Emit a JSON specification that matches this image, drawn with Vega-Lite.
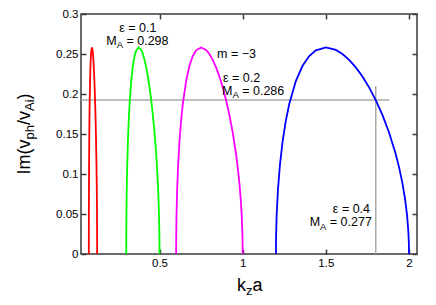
{
  "$schema": "https://vega.github.io/schema/vega-lite/v6.json",
  "width": 336,
  "height": 240,
  "autosize": "none",
  "padding": {"left": 81, "top": 14, "right": 19, "bottom": 51},
  "background": "white",
  "config": {
    "view": {"stroke": "#3a3a3a", "strokeWidth": 1.5},
    "font": "Liberation Sans",
    "axis": {"labelFont": "Liberation Sans", "labelFontSize": 11.5, "labelColor": "black", "tickColor": "#3a3a3a", "tickWidth": 1.5, "grid": false, "domain": false}
  },
  "datasets": {
    "curves": [
      {"s":"a","k":0.075,"v":0},{"s":"a","k":0.07505,"v":0.02106},{"s":"a","k":0.07525,"v":0.04687},{"s":"a","k":0.07575,"v":0.08023},{"s":"a","k":0.0765,"v":0.11149},{"s":"a","k":0.0775,"v":0.14061},{"s":"a","k":0.07875,"v":0.16723},{"s":"a","k":0.08,"v":0.1875},{"s":"a","k":0.0825,"v":0.21641},{"s":"a","k":0.085,"v":0.23529},{"s":"a","k":0.0875,"v":0.24744},{"s":"a","k":0.09,"v":0.25459},{"s":"a","k":0.09375,"v":0.2582},{"s":"a","k":0.0975,"v":0.25513},{"s":"a","k":0.1,"v":0.25},{"s":"a","k":0.1025,"v":0.24268},{"s":"a","k":0.105,"v":0.23329},{"s":"a","k":0.1075,"v":0.22185},{"s":"a","k":0.11,"v":0.2083},{"s":"a","k":0.1125,"v":0.19245},{"s":"a","k":0.115,"v":0.17391},{"s":"a","k":0.1175,"v":0.15194},{"s":"a","k":0.12,"v":0.125},{"s":"a","k":0.12125,"v":0.10861},{"s":"a","k":0.1225,"v":0.08896},{"s":"a","k":0.1235,"v":0.06906},{"s":"a","k":0.12425,"v":0.04891},{"s":"a","k":0.12475,"v":0.02827},{"s":"a","k":0.12495,"v":0.01265},{"s":"a","k":0.125,"v":0},
      {"s":"b","k":0.3,"v":0},{"s":"b","k":0.3002,"v":0.02106},{"s":"b","k":0.301,"v":0.04687},{"s":"b","k":0.303,"v":0.08023},{"s":"b","k":0.306,"v":0.11149},{"s":"b","k":0.31,"v":0.14061},{"s":"b","k":0.315,"v":0.16723},{"s":"b","k":0.32,"v":0.1875},{"s":"b","k":0.33,"v":0.21641},{"s":"b","k":0.34,"v":0.23529},{"s":"b","k":0.35,"v":0.24744},{"s":"b","k":0.36,"v":0.25459},{"s":"b","k":0.375,"v":0.2582},{"s":"b","k":0.39,"v":0.25513},{"s":"b","k":0.4,"v":0.25},{"s":"b","k":0.41,"v":0.24268},{"s":"b","k":0.42,"v":0.23329},{"s":"b","k":0.43,"v":0.22185},{"s":"b","k":0.44,"v":0.2083},{"s":"b","k":0.45,"v":0.19245},{"s":"b","k":0.46,"v":0.17391},{"s":"b","k":0.47,"v":0.15194},{"s":"b","k":0.48,"v":0.125},{"s":"b","k":0.485,"v":0.10861},{"s":"b","k":0.49,"v":0.08896},{"s":"b","k":0.494,"v":0.06906},{"s":"b","k":0.497,"v":0.04891},{"s":"b","k":0.499,"v":0.02827},{"s":"b","k":0.4998,"v":0.01265},{"s":"b","k":0.5,"v":0},
      {"s":"c","k":0.6,"v":0},{"s":"c","k":0.6004,"v":0.02106},{"s":"c","k":0.602,"v":0.04687},{"s":"c","k":0.606,"v":0.08023},{"s":"c","k":0.612,"v":0.11149},{"s":"c","k":0.62,"v":0.14061},{"s":"c","k":0.63,"v":0.16723},{"s":"c","k":0.64,"v":0.1875},{"s":"c","k":0.66,"v":0.21641},{"s":"c","k":0.68,"v":0.23529},{"s":"c","k":0.7,"v":0.24744},{"s":"c","k":0.72,"v":0.25459},{"s":"c","k":0.75,"v":0.2582},{"s":"c","k":0.78,"v":0.25513},{"s":"c","k":0.8,"v":0.25},{"s":"c","k":0.82,"v":0.24268},{"s":"c","k":0.84,"v":0.23329},{"s":"c","k":0.86,"v":0.22185},{"s":"c","k":0.88,"v":0.2083},{"s":"c","k":0.9,"v":0.19245},{"s":"c","k":0.92,"v":0.17391},{"s":"c","k":0.94,"v":0.15194},{"s":"c","k":0.96,"v":0.125},{"s":"c","k":0.97,"v":0.10861},{"s":"c","k":0.98,"v":0.08896},{"s":"c","k":0.988,"v":0.06906},{"s":"c","k":0.994,"v":0.04891},{"s":"c","k":0.998,"v":0.02827},{"s":"c","k":0.9996,"v":0.01265},{"s":"c","k":1.0,"v":0},
      {"s":"d","k":1.2,"v":0},{"s":"d","k":1.2008,"v":0.02106},{"s":"d","k":1.204,"v":0.04687},{"s":"d","k":1.212,"v":0.08023},{"s":"d","k":1.224,"v":0.11149},{"s":"d","k":1.24,"v":0.14061},{"s":"d","k":1.26,"v":0.16723},{"s":"d","k":1.28,"v":0.1875},{"s":"d","k":1.32,"v":0.21641},{"s":"d","k":1.36,"v":0.23529},{"s":"d","k":1.4,"v":0.24744},{"s":"d","k":1.44,"v":0.25459},{"s":"d","k":1.5,"v":0.2582},{"s":"d","k":1.56,"v":0.25513},{"s":"d","k":1.6,"v":0.25},{"s":"d","k":1.64,"v":0.24268},{"s":"d","k":1.68,"v":0.23329},{"s":"d","k":1.72,"v":0.22185},{"s":"d","k":1.76,"v":0.2083},{"s":"d","k":1.8,"v":0.19245},{"s":"d","k":1.84,"v":0.17391},{"s":"d","k":1.88,"v":0.15194},{"s":"d","k":1.92,"v":0.125},{"s":"d","k":1.94,"v":0.10861},{"s":"d","k":1.96,"v":0.08896},{"s":"d","k":1.976,"v":0.06906},{"s":"d","k":1.988,"v":0.04891},{"s":"d","k":1.996,"v":0.02827},{"s":"d","k":1.9992,"v":0.01265},{"s":"d","k":2.0,"v":0}
    ],
    "guides": [
      {"x": 0.028, "x2": 1.88, "y": 0.1925, "y2": 0.1925},
      {"x": 1.8, "x2": 1.8, "y": 0, "y2": 0.21}
    ],
    "ann": [
      {"t": "ε = 0.1", "x": 0.258, "y": 0.2775},
      {"t": "M", "x": 0.18, "y": 0.26125},
      {"t": "= 0.298", "x": 0.3012, "y": 0.26125},
      {"t": "m = −3", "x": 0.846, "y": 0.245},
      {"t": "ε = 0.2", "x": 0.882, "y": 0.215},
      {"t": "M", "x": 0.876, "y": 0.19875},
      {"t": "= 0.286", "x": 0.9972, "y": 0.19875},
      {"t": "ε = 0.4", "x": 1.542, "y": 0.0515},
      {"t": "M", "x": 1.4028, "y": 0.035},
      {"t": "= 0.277", "x": 1.524, "y": 0.035}
    ],
    "annsub": [
      {"t": "A", "x": 0.2424, "y": 0.2569},
      {"t": "A", "x": 0.9384, "y": 0.1944},
      {"t": "A", "x": 1.4652, "y": 0.0306}
    ],
    "ytitle": [
      {"t": "Im(v", "x": -0.276, "y": 0.0994},
      {"t": "/v", "x": -0.276, "y": 0.16125},
      {"t": ")", "x": -0.276, "y": 0.19325}
    ],
    "ytitlesub": [
      {"t": "ph", "x": -0.252, "y": 0.1431},
      {"t": "Ai", "x": -0.252, "y": 0.17875}
    ],
    "xtitle": [
      {"t": "k", "x": 0.966, "y": -0.04625},
      {"t": "a", "x": 1.059, "y": -0.04625}
    ],
    "xtitlesub": [
      {"t": "z", "x": 1.02, "y": -0.05125}
    ]
  },
  "resolve": {"axis": {"x": "independent", "y": "independent"}},
  "layer": [
    {
      "data": {"name": "guides"},
      "mark": {"type": "rule", "color": "#aaaaaa", "strokeWidth": 1.5},
      "encoding": {
        "x": {"field": "x", "type": "quantitative", "scale": {"domain": [0.028, 2.048], "nice": false, "zero": false},
              "axis": {"orient": "bottom", "values": [0.5, 1, 1.5, 2], "format": "~g", "tickSize": -5, "labelPadding": 8, "title": null}},
        "x2": {"field": "x2"},
        "y": {"field": "y", "type": "quantitative", "scale": {"domain": [0, 0.3], "nice": false},
              "axis": {"orient": "left", "values": [0, 0.05, 0.1, 0.15, 0.2, 0.25, 0.3], "format": "~g", "tickSize": -5, "labelPadding": 8, "title": null}},
        "y2": {"field": "y2"}
      }
    },
    {
      "data": {"name": "curves"},
      "mark": {"type": "line", "strokeWidth": 1.8},
      "encoding": {
        "x": {"field": "k", "type": "quantitative", "scale": {"domain": [0.028, 2.048], "nice": false, "zero": false},
              "axis": {"orient": "top", "values": [0.5, 1, 1.5, 2], "tickSize": -5, "labels": false, "title": null}},
        "y": {"field": "v", "type": "quantitative", "scale": {"domain": [0, 0.3], "nice": false},
              "axis": {"orient": "right", "values": [0, 0.05, 0.1, 0.15, 0.2, 0.25, 0.3], "tickSize": -5, "labels": false, "title": null}},
        "color": {"field": "s", "type": "nominal", "scale": {"domain": ["a", "b", "c", "d"], "range": ["#ff0000", "#00ff00", "#ff00ff", "#0000ff"]}, "legend": null}
      }
    },
    {
      "data": {"name": "ann"},
      "mark": {"type": "text", "align": "left", "baseline": "alphabetic", "fontSize": 12.5, "color": "black"},
      "encoding": {
        "x": {"field": "x", "type": "quantitative", "axis": null},
        "y": {"field": "y", "type": "quantitative", "axis": null},
        "text": {"field": "t"}
      }
    },
    {
      "data": {"name": "annsub"},
      "mark": {"type": "text", "align": "left", "baseline": "alphabetic", "fontSize": 9.5, "color": "black"},
      "encoding": {
        "x": {"field": "x", "type": "quantitative", "axis": null},
        "y": {"field": "y", "type": "quantitative", "axis": null},
        "text": {"field": "t"}
      }
    },
    {
      "data": {"name": "ytitle"},
      "mark": {"type": "text", "align": "left", "baseline": "alphabetic", "fontSize": 18, "angle": 270, "color": "black"},
      "encoding": {
        "x": {"field": "x", "type": "quantitative", "axis": null},
        "y": {"field": "y", "type": "quantitative", "axis": null},
        "text": {"field": "t"}
      }
    },
    {
      "data": {"name": "ytitlesub"},
      "mark": {"type": "text", "align": "left", "baseline": "alphabetic", "fontSize": 13, "angle": 270, "color": "black"},
      "encoding": {
        "x": {"field": "x", "type": "quantitative", "axis": null},
        "y": {"field": "y", "type": "quantitative", "axis": null},
        "text": {"field": "t"}
      }
    },
    {
      "data": {"name": "xtitle"},
      "mark": {"type": "text", "align": "left", "baseline": "alphabetic", "fontSize": 18, "color": "black"},
      "encoding": {
        "x": {"field": "x", "type": "quantitative", "axis": null},
        "y": {"field": "y", "type": "quantitative", "axis": null},
        "text": {"field": "t"}
      }
    },
    {
      "data": {"name": "xtitlesub"},
      "mark": {"type": "text", "align": "left", "baseline": "alphabetic", "fontSize": 13, "color": "black"},
      "encoding": {
        "x": {"field": "x", "type": "quantitative", "axis": null},
        "y": {"field": "y", "type": "quantitative", "axis": null},
        "text": {"field": "t"}
      }
    }
  ]
}
